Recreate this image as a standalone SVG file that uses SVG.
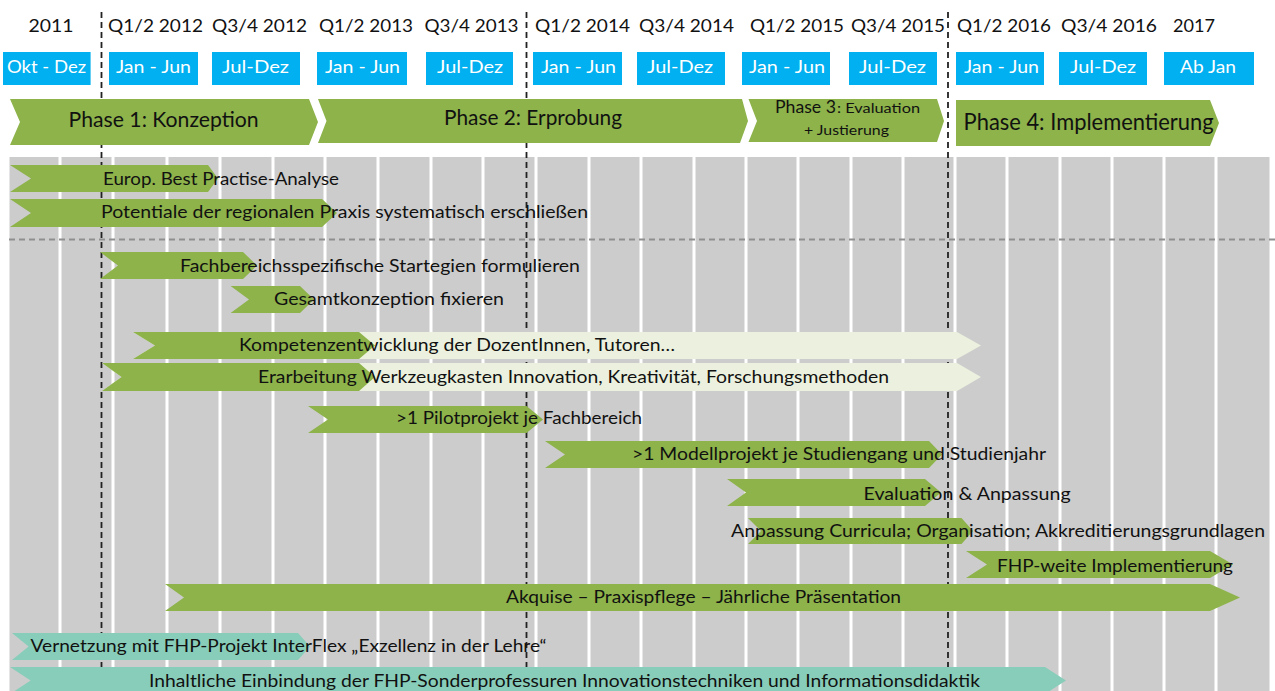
<svg xmlns="http://www.w3.org/2000/svg" width="1275" height="691" viewBox="0 0 1275 691">
<style>
text{font-family:Lato,"Open Sans","Liberation Sans",sans-serif;fill:#111;}
.yr{font-size:18px;}
.mo{font-size:18px;fill:#fff;}
.ph{font-size:21px;}
.tk{font-size:17px;}
.box{fill:#00B0F0;}
.g{fill:#8DB34A;}
.lg{fill:#EBF1DE;}
.t{fill:#88CDB9;}
.col{stroke:#fff;stroke-width:3;}
.vd{stroke:#222;stroke-width:1.8;stroke-dasharray:6 4;fill:none;}
.hd{stroke:#8F8F8F;stroke-width:2;stroke-dasharray:6 4;fill:none;}
</style>
<rect width="1275" height="691" fill="#fff"/>
<g id="grid">
<rect x="9.5" y="157" width="1260" height="534" fill="#CCCCCC"/>
<g class="col">
<line x1="60" y1="157" x2="60" y2="691"/><line x1="113" y1="157" x2="113" y2="691"/>
<line x1="167" y1="157" x2="167" y2="691"/><line x1="220" y1="157" x2="220" y2="691"/>
<line x1="273" y1="157" x2="273" y2="691"/><line x1="325" y1="157" x2="325" y2="691"/>
<line x1="378" y1="157" x2="378" y2="691"/><line x1="431" y1="157" x2="431" y2="691"/>
<line x1="483" y1="157" x2="483" y2="691"/><line x1="536" y1="157" x2="536" y2="691"/>
<line x1="589" y1="157" x2="589" y2="691"/><line x1="641" y1="157" x2="641" y2="691"/>
<line x1="694" y1="157" x2="694" y2="691"/><line x1="746" y1="157" x2="746" y2="691"/>
<line x1="798" y1="157" x2="798" y2="691"/><line x1="851" y1="157" x2="851" y2="691"/>
<line x1="903" y1="157" x2="903" y2="691"/><line x1="955" y1="157" x2="955" y2="691"/>
<line x1="1007" y1="157" x2="1007" y2="691"/><line x1="1060" y1="157" x2="1060" y2="691"/>
<line x1="1112" y1="157" x2="1112" y2="691"/><line x1="1164" y1="157" x2="1164" y2="691"/>
<line x1="1216" y1="157" x2="1216" y2="691"/>
</g>
</g>
<g id="connectors">
<line class="hd" x1="9" y1="239.5" x2="1275" y2="239.5"/>
<line class="vd" x1="101.5" y1="12" x2="101.5" y2="691"/>
<line class="vd" x1="526.5" y1="12" x2="526.5" y2="691"/>
<line class="vd" x1="948" y1="12" x2="948" y2="691"/>
</g>
<g id="years">
<text class="yr" x="28.6" y="32" textLength="45" lengthAdjust="spacingAndGlyphs">2011</text>
<text class="yr" x="108" y="32" textLength="95" lengthAdjust="spacingAndGlyphs">Q1/2 2012</text>
<text class="yr" x="212" y="32" textLength="95" lengthAdjust="spacingAndGlyphs">Q3/4 2012</text>
<text class="yr" x="319" y="32" textLength="94" lengthAdjust="spacingAndGlyphs">Q1/2 2013</text>
<text class="yr" x="424.5" y="32" textLength="94" lengthAdjust="spacingAndGlyphs">Q3/4 2013</text>
<text class="yr" x="535" y="32" textLength="95" lengthAdjust="spacingAndGlyphs">Q1/2 2014</text>
<text class="yr" x="639" y="32" textLength="95" lengthAdjust="spacingAndGlyphs">Q3/4 2014</text>
<text class="yr" x="750" y="32" textLength="94" lengthAdjust="spacingAndGlyphs">Q1/2 2015</text>
<text class="yr" x="851" y="32" textLength="94" lengthAdjust="spacingAndGlyphs">Q3/4 2015</text>
<text class="yr" x="957" y="32" textLength="94" lengthAdjust="spacingAndGlyphs">Q1/2 2016</text>
<text class="yr" x="1061" y="32" textLength="96" lengthAdjust="spacingAndGlyphs">Q3/4 2016</text>
<text class="yr" x="1173" y="32" textLength="42" lengthAdjust="spacingAndGlyphs">2017</text>
</g>
<g id="months">
<rect class="box" x="3" y="52" width="87.6" height="33"/><text class="mo" x="7" y="73" textLength="79" lengthAdjust="spacingAndGlyphs">Okt - Dez</text>
<rect class="box" x="109" y="52" width="89" height="33"/><text class="mo" x="116" y="73" textLength="75" lengthAdjust="spacingAndGlyphs">Jan - Jun</text>
<rect class="box" x="212" y="52" width="88" height="33"/><text class="mo" x="222" y="73" textLength="67" lengthAdjust="spacingAndGlyphs">Jul-Dez</text>
<rect class="box" x="317" y="52" width="90" height="33"/><text class="mo" x="325" y="73" textLength="75" lengthAdjust="spacingAndGlyphs">Jan - Jun</text>
<rect class="box" x="426" y="52" width="87" height="33"/><text class="mo" x="437" y="73" textLength="66" lengthAdjust="spacingAndGlyphs">Jul-Dez</text>
<rect class="box" x="533" y="52" width="89" height="33"/><text class="mo" x="541" y="73" textLength="75" lengthAdjust="spacingAndGlyphs">Jan - Jun</text>
<rect class="box" x="637" y="52" width="88" height="33"/><text class="mo" x="647" y="73" textLength="66" lengthAdjust="spacingAndGlyphs">Jul-Dez</text>
<rect class="box" x="742" y="52" width="88" height="33"/><text class="mo" x="749" y="73" textLength="76" lengthAdjust="spacingAndGlyphs">Jan - Jun</text>
<rect class="box" x="849" y="52" width="88" height="33"/><text class="mo" x="859" y="73" textLength="67" lengthAdjust="spacingAndGlyphs">Jul-Dez</text>
<rect class="box" x="956" y="52" width="88" height="33"/><text class="mo" x="964" y="73" textLength="75" lengthAdjust="spacingAndGlyphs">Jan - Jun</text>
<rect class="box" x="1059" y="52" width="88" height="33"/><text class="mo" x="1070" y="73" textLength="66" lengthAdjust="spacingAndGlyphs">Jul-Dez</text>
<rect class="box" x="1164" y="52" width="90" height="33"/><text class="mo" x="1180" y="73" textLength="56" lengthAdjust="spacingAndGlyphs">Ab Jan</text>
</g>
<g id="phase1">
<path class="g" d="M10 99 L309 99 L318 122 L309 145 L10 145 L20 122 Z"/>
<text class="ph" x="68.6" y="127" textLength="190" lengthAdjust="spacingAndGlyphs">Phase 1: Konzeption</text>
</g>
<g id="phase2">
<path class="g" d="M318 99 L742 99 L748 121 L740 143 L318 143 L326.5 121 Z"/>
<text class="ph" x="444" y="125" textLength="178" lengthAdjust="spacingAndGlyphs">Phase 2: Erprobung</text>
</g>
<g id="phase3">
<path class="g" d="M748.5 99 L937 99 L944 121 L937 142 L748.5 142 L757 121 Z"/>
<text y="113"><tspan x="775" font-size="17" textLength="61" lengthAdjust="spacingAndGlyphs">Phase 3</tspan><tspan x="837" font-size="14" textLength="83" lengthAdjust="spacingAndGlyphs">: Evaluation</tspan></text>
<text x="804" y="135" font-size="14" textLength="85" lengthAdjust="spacingAndGlyphs">+ Justierung</text>
</g>
<g id="phase4">
<path class="g" d="M956 100 L1210 100 L1219 123 L1210 146 L956 146 Z"/>
<text x="963.6" y="130" font-size="23" textLength="250" lengthAdjust="spacingAndGlyphs">Phase 4: Implementierung</text>
</g>
<g id="task-europ">
<path class="g" d="M10 165 L208 165 L218 178.5 L208 192 L10 192 L31 178.5 Z"/>
<text class="tk" x="103" y="185" textLength="236" lengthAdjust="spacingAndGlyphs">Europ. Best Practise-Analyse</text>
</g>
<g id="task-potentiale">
<path class="g" d="M10 199 L322 199 L337 213 L322 227 L10 227 L31 213 Z"/>
<text class="tk" x="101" y="218" textLength="487" lengthAdjust="spacingAndGlyphs">Potentiale der regionalen Praxis systematisch erschließen</text>
</g>
<g id="task-fachbereich">
<path class="g" d="M100 252 L243 252 L257 265.5 L243 279 L100 279 L118 265.5 Z"/>
<text class="tk" x="180" y="272" textLength="400" lengthAdjust="spacingAndGlyphs">Fachbereichsspezifische Startegien formulieren</text>
</g>
<g id="task-gesamtkonzeption">
<path class="g" d="M230.6 286 L300 286 L314 299.5 L300 313 L230.6 313 L249 299.5 Z"/>
<text class="tk" x="274" y="305" textLength="230" lengthAdjust="spacingAndGlyphs">Gesamtkonzeption fixieren</text>
</g>
<g id="task-kompetenz">
<path class="lg" d="M133 332 L957 332 L981 345.5 L957 359 L133 359 L155 345.5 Z"/>
<path class="g" d="M133 332 L359 332 L375 345.5 L359 359 L133 359 L155 345.5 Z"/>
<text class="tk" x="239" y="351" textLength="436" lengthAdjust="spacingAndGlyphs">Kompetenzentwicklung der DozentInnen, Tutoren…</text>
</g>
<g id="task-werkzeugkasten">
<path class="lg" d="M102 363 L957 363 L981 377 L957 391 L102 391 L121.6 377 Z"/>
<path class="g" d="M102 363 L359 363 L375 377 L359 391 L102 391 L121.6 377 Z"/>
<text class="tk" x="258" y="383" textLength="631" lengthAdjust="spacingAndGlyphs">Erarbeitung Werkzeugkasten Innovation, Kreativität, Forschungsmethoden</text>
</g>
<g id="task-pilotprojekt">
<path class="g" d="M308 406 L526.5 406 L543 419.5 L526.5 433 L308 433 L328 419.5 Z"/>
<text class="tk" x="396" y="424" textLength="246" lengthAdjust="spacingAndGlyphs">&gt;1 Pilotprojekt  je Fachbereich</text>
</g>
<g id="task-modellprojekt">
<path class="g" d="M545 441 L929 441 L942 454.5 L929 468 L545 468 L565 454.5 Z"/>
<text class="tk" x="632" y="460" textLength="414" lengthAdjust="spacingAndGlyphs">&gt;1 Modellprojekt  je Studiengang und Studienjahr</text>
</g>
<g id="task-evaluation">
<path class="g" d="M727 479 L925 479 L941 492.5 L925 506 L727 506 L746 492.5 Z"/>
<text class="tk" x="863.6" y="500" textLength="207" lengthAdjust="spacingAndGlyphs">Evaluation &amp; Anpassung</text>
</g>
<g id="task-anpassung">
<path class="g" d="M748 518 L961.5 518 L973 531 L961.5 544 L748 544 L761 531 Z"/>
<text class="tk" x="731" y="537" textLength="534" lengthAdjust="spacingAndGlyphs">Anpassung Curricula; Organisation; Akkreditierungsgrundlagen</text>
</g>
<g id="task-implementierung">
<path class="g" d="M966 551 L1210 551 L1233 564.5 L1210 578 L966 578 L987 564.5 Z"/>
<text class="tk" x="997" y="572" textLength="236" lengthAdjust="spacingAndGlyphs">FHP-weite Implementierung</text>
</g>
<g id="task-akquise">
<path class="g" d="M165 584 L1210 584 L1240 597.5 L1210 611 L165 611 L184 597.5 Z"/>
<text class="tk" x="506" y="603" textLength="395" lengthAdjust="spacingAndGlyphs">Akquise – Praxispflege – Jährliche Präsentation</text>
</g>
<g id="task-vernetzung">
<path class="t" d="M12 633 L298 633 L310 646.5 L298 660 L12 660 L28.6 646.5 Z"/>
<text class="tk" x="30.6" y="652" textLength="516" lengthAdjust="spacingAndGlyphs">Vernetzung mit FHP-Projekt  InterFlex „Exzellenz in der Lehre“</text>
</g>
<g id="task-einbindung">
<path class="t" d="M10 667 L1045 667 L1066 680.5 L1045 694 L10 694 L30.6 680.5 Z"/>
<text class="tk" x="149" y="687" textLength="831" lengthAdjust="spacingAndGlyphs">Inhaltliche Einbindung der FHP-Sonderprofessuren Innovationstechniken und Informationsdidaktik</text>
</g>
</svg>
